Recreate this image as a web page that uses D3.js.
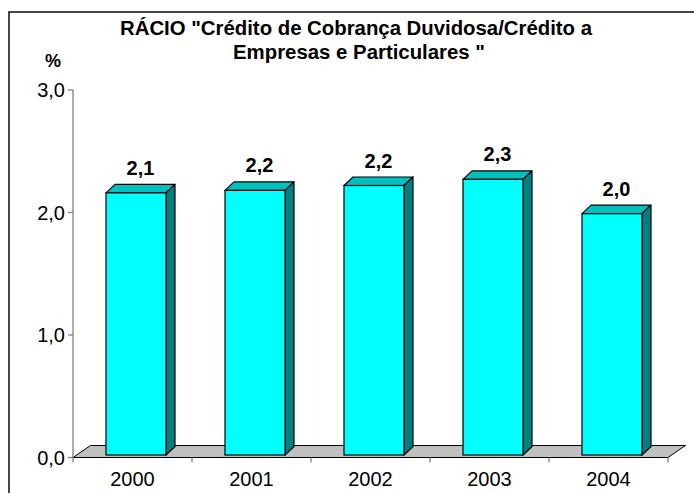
<!DOCTYPE html>
<html>
<head>
<meta charset="utf-8">
<script src="https://cdn.jsdelivr.net/npm/d3@7"></script>
<style>
  body { margin: 0; background: #fff; }
  svg { display: block; font-family: Arial, "Liberation Sans", sans-serif; }
</style>
</head>
<body>
<svg id="chart" width="694" height="493"></svg>
<script>
// data
const years = ["2000", "2001", "2002", "2003", "2004"];
const ratio = [2.14, 2.16, 2.2, 2.25, 1.97];
const yTicks = [0, 1, 2, 3];
const titleLines = ['RÁCIO "Crédito de Cobrança Duvidosa/Crédito a', 'Empresas e Particulares "'];

const svg = d3.select("#chart");
const pt = d3.formatLocale({ decimal: ",", thousands: ".", grouping: [3], currency: ["", "€"] });
const fmt = pt.format(".1f");

// frame (only top + left visible in the picture)
svg.append("rect")
  .attr("x", 9).attr("y", 12).attr("width", 720).attr("height", 520)
  .attr("fill", "none").attr("stroke", "#333").attr("stroke-width", 1.8);

// title
svg.append("text").attr("x", 356).attr("y", 35)
  .attr("text-anchor", "middle").attr("font-weight", "bold").attr("font-size", 20)
  .attr("textLength", 472).attr("lengthAdjust", "spacingAndGlyphs")
  .text(titleLines[0]);
svg.append("text").attr("x", 359).attr("y", 59)
  .attr("text-anchor", "middle").attr("font-weight", "bold").attr("font-size", 20)
  .attr("textLength", 252).attr("lengthAdjust", "spacingAndGlyphs")
  .text(titleLines[1]);

svg.append("text").attr("x", 53).attr("y", 67)
  .attr("text-anchor", "middle").attr("font-weight", "bold").attr("font-size", 18)
  .text("%");

const x = d3.scaleBand().domain(years).range([73, 668]).padding(0);
const y = d3.scaleLinear().domain([0, 3]).range([457.5, 90]);

// floor depth and bar depth offsets
const FDX = 17.5, FDY = -12;
const BFX = 3.5, BFY = -2.5;   // bar front offset from floor front
const BDX = 9, BDY = -8.5;     // bar depth

// floor
const x0 = x.range()[0], x1 = x.range()[1], yb = y(0);
svg.append("polygon")
  .attr("points", [[x0, yb], [x1, yb], [x1 + FDX, yb + FDY], [x0 + FDX, yb + FDY]].join(" "))
  .attr("fill", "#c0c0c0").attr("stroke", "#000").attr("stroke-width", 1);

// y axis
svg.append("line")
  .attr("x1", x0).attr("x2", x0).attr("y1", y(3)).attr("y2", yb)
  .attr("stroke", "#808080").attr("stroke-width", 1.3);
const yt = svg.append("g").selectAll("g").data(yTicks).join("g");
yt.append("line")
  .attr("x1", x0 - 5).attr("x2", x0).attr("y1", d => y(d)).attr("y2", d => y(d))
  .attr("stroke", "#808080").attr("stroke-width", 1.3);
yt.append("text")
  .attr("x", 65).attr("y", d => y(d) + 7)
  .attr("text-anchor", "end").attr("font-size", 20).attr("fill", "#000")
  .text(d => fmt(d));

// x ticks + labels
const xt = [...years.map(d => x(d)), x1];
svg.append("g").selectAll("line").data(xt).join("line")
  .attr("x1", d => d).attr("x2", d => d).attr("y1", yb).attr("y2", yb + 5)
  .attr("stroke", "#808080").attr("stroke-width", 1.3);
svg.append("g").selectAll("text").data(years).join("text")
  .attr("x", d => x(d) + x.bandwidth() / 2).attr("y", 486)
  .attr("text-anchor", "middle").attr("font-size", 20)
  .text(d => d);

// bars
const bw = 60;
const bars = svg.append("g").selectAll("g").data(years).join("g");
const bx = d => x(d) + (x.bandwidth() - bw) / 2 + BFX;
const by0 = yb + BFY;
const byt = (d, i) => y(ratio[i]) + BFY;

bars.append("polygon") // top
  .attr("points", (d, i) => [[bx(d), byt(d, i)], [bx(d) + bw, byt(d, i)],
    [bx(d) + bw + BDX, byt(d, i) + BDY], [bx(d) + BDX, byt(d, i) + BDY]].join(" "))
  .attr("fill", "#00c0c0").attr("stroke", "#000").attr("stroke-width", 1.2)
  .attr("stroke-linejoin", "round");
bars.append("polygon") // side
  .attr("points", (d, i) => [[bx(d) + bw, byt(d, i)], [bx(d) + bw + BDX, byt(d, i) + BDY],
    [bx(d) + bw + BDX, by0 + BDY], [bx(d) + bw, by0]].join(" "))
  .attr("fill", "#008080").attr("stroke", "#000").attr("stroke-width", 1.2)
  .attr("stroke-linejoin", "round");
bars.append("rect") // front
  .attr("x", d => bx(d)).attr("y", (d, i) => byt(d, i))
  .attr("width", bw).attr("height", (d, i) => by0 - byt(d, i))
  .attr("fill", "#00ffff").attr("stroke", "#000").attr("stroke-width", 1.2);

bars.append("text")
  .attr("x", d => bx(d) + bw / 2 + BDX / 2)
  .attr("y", (d, i) => byt(d, i) - 18)
  .attr("text-anchor", "middle").attr("font-weight", "bold").attr("font-size", 20)
  .text((d, i) => fmt(ratio[i]));
</script>
</body>
</html>
